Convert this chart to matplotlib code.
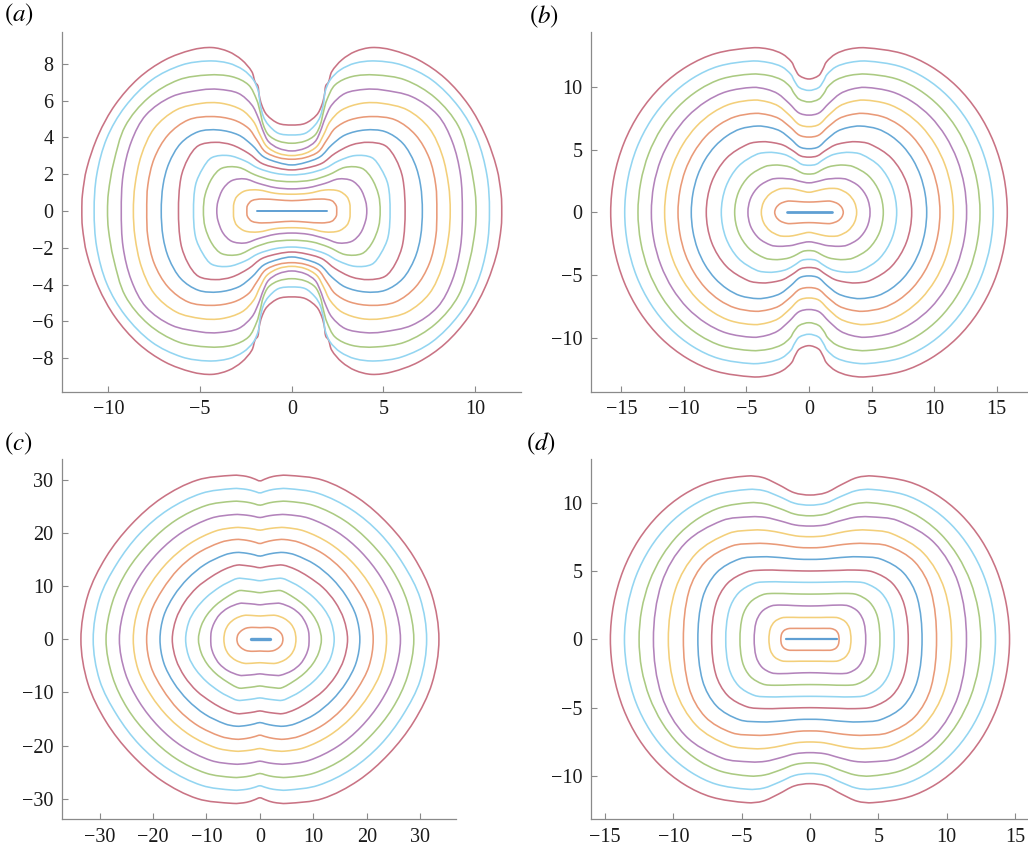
import numpy as np
import matplotlib
matplotlib.use("Agg")
import matplotlib.pyplot as plt
from matplotlib.path import Path
from matplotlib.patches import PathPatch

plt.rcParams['font.family'] = ['Liberation Serif', 'DejaVu Serif']
plt.rcParams['mathtext.fontset'] = 'stix'

# front colours, outermost front first (matlab default order, washed out)
front_colors = ['#c97384', '#93d5f1', '#abca82', '#b383bb', '#f3cf7a', '#e99a78', '#66a8d6']
crack_color = '#5f9fd3'

# --- (a): upper-right quarter of every front, outermost first ---
a_x = [
    [0, 0.73, 1.36, 1.64, 1.78, 1.85, 2.0, 2.18, 2.73, 3.45, 4.36, 5.45, 6.91, 8.36, 9.64, 10.55, 11.18, 11.42, 11.45],
    [0, 0.73, 1.27, 1.55, 1.73, 1.82, 2.09, 2.64, 3.45, 4.55, 6.0, 7.64, 9.09, 10.09, 10.64, 10.78],
    [0, 0.73, 1.27, 1.55, 1.73, 1.91, 2.36, 3.27, 4.55, 6.18, 7.82, 9.09, 9.72, 10.0, 10.05],
    [0, 0.73, 1.27, 1.55, 1.82, 2.18, 2.91, 4.0, 4.91, 6.55, 7.95, 8.75, 9.2, 9.3],
    [0, 0.73, 1.36, 1.73, 2.09, 2.73, 3.82, 4.91, 6.3, 7.5, 8.2, 8.55, 8.64],
    [0, 0.73, 1.45, 1.91, 2.36, 3.18, 4.36, 5.64, 6.75, 7.5, 7.85, 7.91],
    [0, 0.73, 1.55, 2.18, 2.91, 4.0, 5.09, 6.05, 6.7, 7.02, 7.12],
    [0, 0.73, 1.64, 2.36, 3.27, 4.18, 5.09, 5.65, 6.05, 6.18],
    [0, 0.91, 1.82, 2.55, 3.45, 4.36, 4.85, 5.25, 5.36],
    [0, 1.09, 2.0, 2.91, 3.82, 4.35, 4.73, 4.82],
    [0, 0.91, 1.82, 2.55, 3.27, 3.75, 4.03, 4.09],
    [0, 0.91, 1.82, 2.55, 3.0, 3.16, 3.18],
    [0, 0.73, 1.64, 2.18, 2.42, 2.45],
]
a_y = [
    [4.67, 4.76, 5.22, 5.76, 6.3, 6.8, 7.0, 7.57, 8.21, 8.66, 8.88, 8.75, 8.21, 7.21, 5.76, 4.13, 2.32, 0.87, 0],
    [4.13, 4.22, 4.67, 5.13, 5.85, 6.49, 7.12, 7.66, 8.03, 8.15, 7.93, 7.12, 5.67, 3.95, 1.96, 0],
    [3.68, 3.8, 4.13, 4.67, 5.4, 6.03, 6.85, 7.3, 7.39, 7.12, 6.15, 4.6, 2.6, 1.0, 0],
    [3.26, 3.41, 3.77, 4.31, 5.04, 5.76, 6.39, 6.61, 6.58, 6.21, 5.22, 3.77, 1.96, 0],
    [3.01, 3.13, 3.5, 4.13, 4.86, 5.49, 5.85, 5.85, 5.49, 4.49, 3.04, 1.41, 0],
    [2.81, 2.9, 3.22, 3.86, 4.49, 4.95, 5.13, 4.95, 4.13, 2.86, 1.41, 0],
    [2.5, 2.63, 2.95, 3.59, 4.13, 4.4, 4.31, 3.68, 2.59, 1.41, 0],
    [2.23, 2.32, 2.59, 3.13, 3.59, 3.73, 3.55, 2.86, 1.78, 0],
    [1.96, 2.05, 2.32, 2.72, 3.01, 2.9, 2.32, 1.41, 0],
    [1.59, 1.68, 1.96, 2.37, 2.32, 1.78, 0.87, 0],
    [1.2, 1.27, 1.5, 1.74, 1.65, 1.2, 0.51, 0],
    [0.91, 0.96, 1.14, 1.09, 0.78, 0.4, 0],
    [0.56, 0.6, 0.65, 0.56, 0.29, 0],
]
a_crack = [-1.91, 1.91]

# --- (b) ---
b_x = [
    [0, 0.77, 1.1, 1.4, 2.12, 3.15, 4.5, 7.44, 9.74, 11.8, 13.5, 14.78, 15.58, 15.85],
    [0, 0.78, 1.15, 1.45, 2.16, 3.22, 4.6, 7.22, 9.28, 11.11, 12.63, 13.78, 14.49, 14.73],
    [0, 0.78, 1.2, 1.5, 2.16, 3.22, 4.6, 6.95, 8.79, 10.43, 11.79, 12.82, 13.45, 13.67],
    [0, 0.81, 1.58, 2.48, 3.38, 4.5, 6.6, 8.24, 9.71, 10.92, 11.84, 12.41, 12.6],
    [0, 0.79, 1.54, 2.42, 3.3, 4.4, 6.25, 7.7, 8.99, 10.06, 10.87, 11.37, 11.54],
    [0, 0.77, 1.5, 2.37, 3.23, 4.3, 5.9, 7.15, 8.27, 9.19, 9.89, 10.32, 10.47],
    [0, 0.74, 1.44, 2.26, 3.08, 4.1, 5.48, 6.55, 7.51, 8.31, 8.91, 9.28, 9.41],
    [0, 0.67, 1.3, 2.04, 2.78, 3.7, 4.87, 6.6, 7.79, 8.21],
    [0, 0.58, 1.12, 1.76, 2.4, 3.2, 4.19, 5.65, 6.65, 7.01],
    [0, 0.49, 0.95, 1.49, 2.03, 2.7, 3.54, 4.78, 5.64, 5.94],
    [0, 0.84, 1.32, 1.8, 2.4, 3.04, 3.99, 4.65, 4.88],
    [0, 0.67, 1.3, 1.9, 2.39, 3.13, 3.63, 3.81],
    [0, 0.75, 1.5, 1.82, 2.3, 2.62, 2.74],
]
b_y = [
    [10.63, 10.9, 11.4, 12.0, 12.62, 13.0, 13.12, 12.67, 11.64, 10.05, 7.99, 5.55, 2.83, 0],
    [9.72, 9.95, 10.45, 11.0, 11.6, 11.94, 12.06, 11.65, 10.7, 9.24, 7.34, 5.1, 2.6, 0],
    [8.8, 9.02, 9.5, 10.0, 10.55, 10.91, 11.02, 10.65, 9.77, 8.44, 6.71, 4.66, 2.38, 0],
    [7.75, 7.93, 8.68, 9.45, 9.81, 9.96, 9.62, 8.83, 7.63, 6.07, 4.21, 2.15, 0],
    [6.83, 7.0, 7.72, 8.46, 8.8, 8.95, 8.65, 7.94, 6.86, 5.45, 3.79, 1.93, 0],
    [6.0, 6.15, 6.79, 7.46, 7.76, 7.89, 7.62, 7.0, 6.04, 4.8, 3.34, 1.7, 0],
    [5.07, 5.21, 5.83, 6.46, 6.75, 6.88, 6.65, 6.1, 5.27, 4.19, 2.91, 1.49, 0],
    [4.4, 4.5, 4.92, 5.35, 5.54, 5.63, 5.44, 4.31, 2.38, 0],
    [3.75, 3.83, 4.18, 4.54, 4.71, 4.78, 4.62, 3.66, 2.02, 0],
    [3.05, 3.11, 3.35, 3.6, 3.72, 3.77, 3.64, 2.89, 1.59, 0],
    [2.35, 2.5, 2.63, 2.68, 2.71, 2.62, 2.08, 1.15, 0],
    [1.6, 1.73, 1.87, 1.91, 1.85, 1.46, 0.81, 0],
    [0.82, 0.85, 0.9, 0.87, 0.69, 0.38, 0],
]
b_crack = [-1.78, 1.81]

# --- (c) ---
c_x = [
    [0, 1.0, 2.5, 5.0, 11.7, 18.4, 24.1, 28.8, 32.2, 33.5],
    [0, 1.0, 2.5, 5.0, 10.9, 17.2, 22.5, 26.8, 30.0, 31.2],
    [0, 1.0, 2.5, 5.0, 10.1, 15.8, 20.7, 24.8, 27.6, 28.8],
    [0, 1.0, 2.5, 4.8, 9.2, 14.5, 18.9, 22.6, 25.2, 26.3],
    [0, 1.0, 2.5, 4.6, 8.3, 13.0, 17.1, 20.4, 22.8, 23.7],
    [0, 1.0, 2.5, 4.5, 7.4, 11.7, 15.3, 18.2, 20.4, 21.2],
    [0, 1.0, 2.5, 4.4, 6.6, 10.3, 13.5, 16.1, 18.0, 18.7],
    [0, 1.0, 2.5, 4.3, 6.6, 9.0, 11.8, 14.1, 15.7, 16.4],
    [0, 1.0, 2.5, 4.2, 6.0, 7.6, 10.0, 12.0, 13.3, 13.9],
    [0, 1.0, 2.5, 4.0, 6.3, 8.3, 9.9, 11.0, 11.5],
    [0, 1.0, 2.5, 3.8, 6.0, 7.6, 8.6, 9.1, 9.2],
    [0, 1.5, 3.0, 4.6, 5.8, 6.5, 6.74],
    [0, 1.5, 2.6, 3.5, 4.1, 4.3],
]
c_y = [
    [29.84, 30.21, 30.69, 30.9, 30.0, 26.6, 21.6, 15.5, 8.3, 0],
    [27.58, 27.87, 28.24, 28.4, 27.5, 24.4, 19.9, 14.2, 7.7, 0],
    [25.26, 25.52, 25.85, 26.0, 25.2, 22.4, 18.2, 13.0, 7.0, 0],
    [22.94, 23.14, 23.39, 23.5, 22.8, 20.2, 16.5, 11.75, 6.35, 0],
    [20.56, 20.74, 20.96, 21.06, 20.4, 18.1, 14.7, 10.5, 5.7, 0],
    [18.05, 18.32, 18.66, 18.81, 18.25, 16.2, 13.2, 9.4, 5.1, 0],
    [15.67, 15.91, 16.22, 16.36, 15.9, 14.1, 11.45, 8.2, 4.4, 0],
    [13.48, 13.66, 13.88, 13.98, 13.2, 11.85, 9.75, 7.0, 3.8, 0],
    [11.03, 11.18, 11.38, 11.47, 10.7, 9.8, 7.95, 5.7, 3.3, 0],
    [8.78, 8.92, 9.1, 9.15, 7.9, 6.4, 4.6, 2.5, 0],
    [6.5, 6.62, 6.75, 6.77, 5.9, 4.6, 3.0, 1.5, 0],
    [4.4, 4.5, 4.5, 3.9, 2.9, 1.6, 0],
    [2.2, 2.25, 2.1, 1.6, 0.9, 0],
]
c_crack = [-1.74, 1.87]

# --- (d) ---
d_x = [
    [0, 1.15, 2.3, 3.45, 4.6, 7.19, 9.22, 11.03, 12.53, 13.66, 14.36, 14.6],
    [0, 1.13, 2.25, 3.38, 4.5, 6.85, 8.69, 10.33, 11.69, 12.72, 13.35, 13.57],
    [0, 1.1, 2.2, 3.3, 4.4, 6.5, 8.14, 9.61, 10.82, 11.74, 12.31, 12.5],
    [0, 1.08, 2.15, 3.23, 4.3, 6.42, 9.1, 10.84, 11.45],
    [0, 1.03, 2.05, 3.08, 4.1, 5.95, 8.31, 9.83, 10.36],
    [0, 0.98, 1.95, 2.93, 3.9, 5.72, 7.66, 8.85, 9.26],
    [0, 0.9, 1.8, 2.7, 3.6, 5.16, 6.83, 7.85, 8.2],
    [0, 1.1, 2.2, 3.3, 4.62, 6.03, 6.89, 7.19],
    [0, 1.0, 2.0, 3.0, 4.07, 5.22, 5.92, 6.16],
    [0, 1.3, 2.6, 3.45, 4.37, 4.93, 5.12],
    [0, 1.1, 2.2, 2.84, 3.52, 3.94, 4.08],
    [0, 0.8, 1.6, 2.07, 2.58, 2.89, 3.0],
    [0, 0.66, 1.33, 1.6, 1.89, 2.07, 2.13],
]
d_y = [
    [10.56, 10.73, 11.32, 11.84, 11.95, 11.54, 10.6, 9.15, 7.28, 5.05, 2.58, 0],
    [9.82, 9.96, 10.45, 10.88, 10.97, 10.6, 9.73, 8.4, 6.68, 4.64, 2.37, 0],
    [9.04, 9.16, 9.57, 9.92, 10.0, 9.66, 8.87, 7.66, 6.09, 4.23, 2.16, 0],
    [8.29, 8.37, 8.66, 8.92, 8.97, 8.69, 7.06, 4.14, 0],
    [7.51, 7.57, 7.78, 7.96, 8.0, 7.75, 6.3, 3.69, 0],
    [6.7, 6.74, 6.88, 6.99, 7.02, 6.83, 5.67, 3.53, 0],
    [5.85, 5.87, 5.95, 6.02, 6.04, 5.88, 4.88, 3.04, 0],
    [5.0, 5.02, 5.05, 5.07, 4.93, 4.1, 2.55, 0],
    [4.17, 4.18, 4.2, 4.21, 4.1, 3.4, 2.12, 0],
    [3.31, 3.33, 3.36, 3.27, 2.71, 1.69, 0],
    [2.44, 2.47, 2.51, 2.44, 2.03, 1.26, 0],
    [1.6, 1.6, 1.61, 1.57, 1.3, 0.81, 0],
    [0.8, 0.8, 0.8, 0.78, 0.65, 0.4, 0],
]
d_crack = [-1.76, 1.95]


def front_path(xs, ys):
    # mirror the quarter into a closed loop, then join the points with smooth bezier pieces
    q = list(zip(xs, ys))
    pts = (q + [(x, -y) for x, y in q[::-1][1:]]
           + [(-x, -y) for x, y in q[1:]]
           + [(-x, y) for x, y in q[::-1][1:-1]])
    P = np.array(pts, dtype=float)
    n = len(P)
    verts = [P[0]]
    codes = [Path.MOVETO]
    for i in range(n):
        p0, p1, p2, p3 = P[i - 1], P[i], P[(i + 1) % n], P[(i + 2) % n]
        d01 = np.hypot(*(p1 - p0))
        d12 = np.hypot(*(p2 - p1))
        d23 = np.hypot(*(p3 - p2))
        m1 = (p2 - p0) / (d01 + d12)
        m2 = (p3 - p1) / (d12 + d23)
        verts += [p1 + m1 * d12 / 3, p2 - m2 * d12 / 3, p2]
        codes += [Path.CURVE4] * 3
    return Path(verts, codes)


fig = plt.figure(figsize=(10.28, 8.48), dpi=100)

panels = [
    # data, crack, axes rect, xlim, ylim, xticks, yticks, crack width
    (a_x, a_y, a_crack, [0.0600, 0.5381, 0.4468, 0.4245], (-12.55, 12.5), (-9.82, 9.74),
     [-10, -5, 0, 5, 10], [-8, -6, -4, -2, 0, 2, 4, 6, 8], 1.4),
    (b_x, b_y, b_crack, [0.5746, 0.5381, 0.4241, 0.4245], (-17.45, 17.4), (-14.3, 14.4),
     [-15, -10, -5, 0, 5, 10, 15], [-10, -5, 0, 5, 10], 2.0),
    (c_x, c_y, c_crack, [0.0600, 0.0338, 0.3836, 0.4245], (-37.1, 36.7), (-33.9, 33.9),
     [-30, -20, -10, 0, 10, 20, 30], [-30, -20, -10, 0, 10, 20, 30], 2.4),
    (d_x, d_y, d_crack, [0.5746, 0.0338, 0.4254, 0.4245], (-16.04, 15.95), (-13.17, 13.17),
     [-15, -10, -5, 0, 5, 10, 15], [-10, -5, 0, 5, 10], 1.6),
]

for px, py, crack, rect, xl, yl, xt, yt, cw in panels:
    ax = fig.add_axes(rect)
    for k, (xs, ys) in enumerate(zip(px, py)):
        ax.add_patch(PathPatch(front_path(xs, ys), fill=False,
                               edgecolor=front_colors[k % 7], lw=1.15))
    ax.plot(crack, [0, 0], color=crack_color, lw=cw, solid_capstyle='round')
    ax.set_xlim(*xl)
    ax.set_ylim(*yl)
    ax.set_xticks(xt)
    ax.set_yticks(yt)
    for s in ['top', 'right']:
        ax.spines[s].set_visible(False)
    for s in ['left', 'bottom']:
        ax.spines[s].set_color('#8a8a8a')
        ax.spines[s].set_linewidth(0.9)
    ax.tick_params(direction='in', length=4, width=0.8, color='#8a8a8a',
                   labelsize=14.5, labelcolor='#1a1a1a', pad=6)

fig.text(0.004, 0.982, r'$(a)$', fontsize=18, va='center', ha='left')
fig.text(0.515, 0.980, r'$(b)$', fontsize=18, va='center', ha='left')
fig.text(0.004, 0.477, r'$(c)$', fontsize=18, va='center', ha='left')
fig.text(0.512, 0.476, r'$(d)$', fontsize=18, va='center', ha='left')

fig.savefig("out.png", dpi=100)
